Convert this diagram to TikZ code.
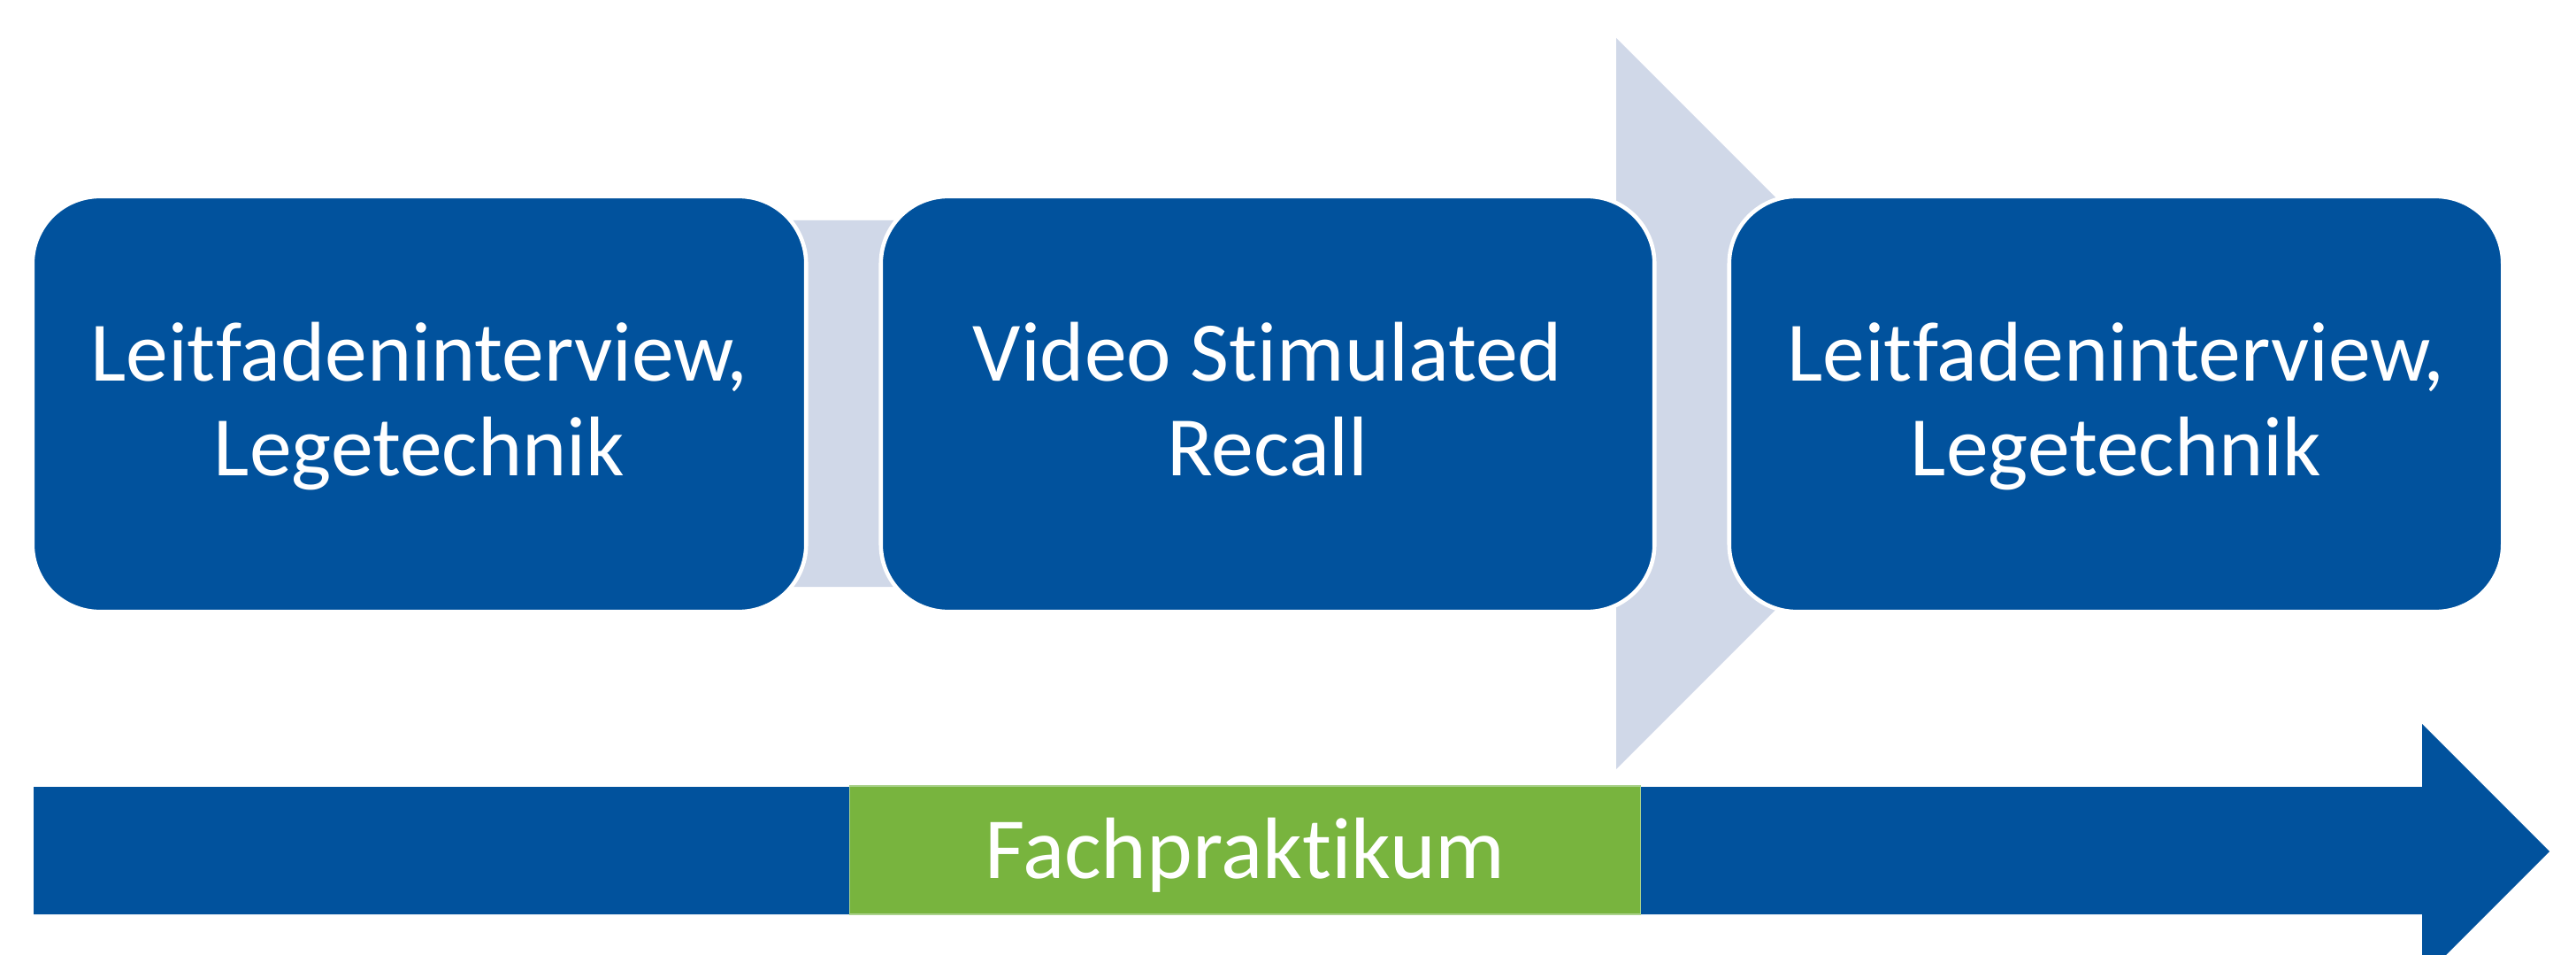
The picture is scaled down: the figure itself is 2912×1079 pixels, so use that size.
\documentclass[tikz,border=0pt]{standalone}
\usepackage{fontspec}
\setmainfont{Carlito}[Ligatures={NoCommon,NoContextual}]
\definecolor{darkblue}{RGB}{1,82,157}
\definecolor{lightband}{RGB}{208,216,232}
\definecolor{fgreen}{RGB}{120,180,62}
\definecolor{fgreenline}{RGB}{170,210,140}
\newcommand{\lnstrut}{\rule[-7.5pt]{0pt}{30.6pt}}
\tikzset{
  stagebox/.style={rectangle, rounded corners=0.76cm, minimum width=8.74cm,
    minimum height=4.69cm, inner sep=0pt, fill=darkblue, draw=white,
    line width=1.3pt, text=white, align=center,
    font=\fontsize{27.2}{30.6}\selectfont},
  phasebox/.style={rectangle, minimum width=8.93cm, minimum height=1.45cm,
    inner sep=0pt, fill=fgreen, draw=fgreenline, line width=0.4pt,
    text=white, text height=22pt, text depth=3.6pt,
    font=\fontsize{28}{33}\selectfont}
}
\begin{document}
\begin{tikzpicture}[x=0.01cm, y=-0.01cm]
\useasboundingbox (0,0) rectangle (2912,1079);
% light background arrow
\fill[lightband] (130,249) -- (1827,249) -- (1827,43) -- (2240,456)
  -- (1827,869) -- (1827,663) -- (130,663) -- cycle;
% stage boxes
\node[stagebox] (b1) at (474,456.5) {\lnstrut Leitfadeninterview,\\Legetechnik\lnstrut};
\node[stagebox] (b2) at (1433,456.5) {\lnstrut Video Stimulated\\Recall\lnstrut};
\node[stagebox] (b3) at (2392,456.5) {\lnstrut Leitfadeninterview,\\Legetechnik\lnstrut};
% bottom timeline arrow
\fill[darkblue] (38,889) -- (2738,889) -- (2738,818) -- (2882,962)
  -- (2738,1106) -- (2738,1033) -- (38,1033) -- cycle;
% phase box
\node[phasebox] (fp) at (1407.5,960.5) {Fachpraktikum};
\end{tikzpicture}
\end{document}
